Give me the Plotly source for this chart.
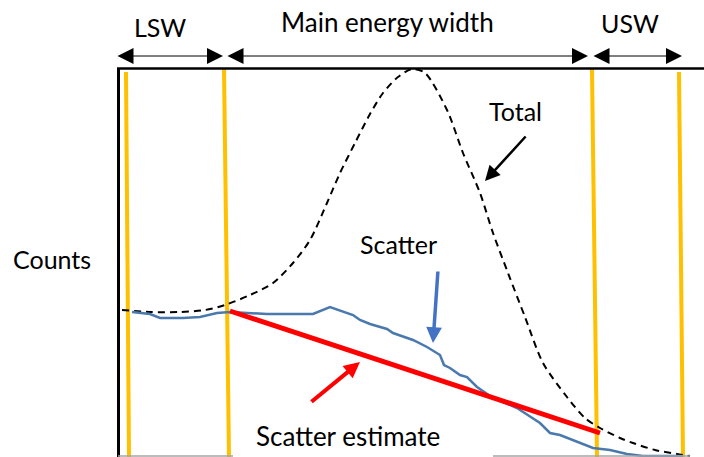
import plotly.graph_objects as go

# Energy-channel positions and counts of the spectrum sketch
total_x = [122, 150, 180, 205, 225, 250, 273, 293, 310, 327, 340, 355, 370, 383, 398, 412,
           425, 447, 463, 480, 493, 508, 525, 543, 567, 585, 600, 620, 633, 655, 677, 690]
total_counts = [147, 145, 145, 147, 152, 162, 174, 194, 217, 254, 284, 314, 343, 364, 380, 388,
                384, 347, 304, 264, 224, 184, 140, 94, 60, 39, 29, 19, 14, 7, 3, 1]

scatter_x = [132, 150, 160, 183, 200, 217, 230, 267, 300, 313, 330, 353, 360, 370, 387, 393,
             413, 427, 440, 444, 450, 460, 467, 477, 493, 517, 540, 550, 560, 572, 593, 610,
             627, 643, 660, 683]
scatter_counts = [145, 143, 139, 139, 140, 144, 145, 143, 143, 143, 150, 142, 137, 133, 128, 124,
                  117, 110, 102, 92, 89, 82, 80, 70, 59, 49, 34, 24, 22, 17, 9, 7,
                  3, 1, 1, 1]

# Linear scatter estimate between the edges of the main window
estimate_x = [230, 600]
estimate_counts = [146, 24]

# Energy window boundaries (top and bottom ends of each marker line)
window_x_top = [126, 224, 592, 679]
window_x_bottom = [129, 229, 597, 683]
window_top = [385, 389, 388, 385]

# Window label spans
lsw_span = [116, 223]
main_span = [226, 588]
usw_span = [592, 682]

Y_MAX = 457
FONT = "Lato"

fig = go.Figure()

# Window boundary lines
for xt, xb, yt in zip(window_x_top, window_x_bottom, window_top):
    fig.add_trace(go.Scatter(x=[xt, xb], y=[yt, 0], mode="lines",
                             line=dict(color="#FFC000", width=4), hoverinfo="skip"))

fig.add_trace(go.Scatter(x=total_x, y=total_counts, mode="lines",
                         line=dict(color="black", width=2, dash="7px,5px", shape="spline",
                                   smoothing=0.8),
                         name="Total"))
fig.add_trace(go.Scatter(x=scatter_x, y=scatter_counts, mode="lines",
                         line=dict(color="#4A79AD", width=2.5), name="Scatter"))
fig.add_trace(go.Scatter(x=estimate_x, y=estimate_counts, mode="lines",
                         line=dict(color="#FF0000", width=5), name="Scatter estimate"))

shapes = [
    # frame: left and top edges, grey baseline pieces
    dict(type="line", x0=118.5, x1=118.5, y0=389, y1=0, line=dict(color="black", width=3)),
    dict(type="line", x0=117, x1=704, y0=388.5, y1=388.5, line=dict(color="black", width=2.5)),
    dict(type="line", x0=118, x1=233, y0=1, y1=1, line=dict(color="#A6A6A6", width=1.5)),
    dict(type="line", x0=493, x1=690, y0=1, y1=1, line=dict(color="#A6A6A6", width=1.5)),
]

annotations = []
arrow_y = Y_MAX - 56
for span in (lsw_span, main_span, usw_span):
    annotations.append(dict(x=span[1], y=arrow_y, ax=span[0], ay=arrow_y,
                            xref="x", yref="y", axref="x", ayref="y", text="",
                            showarrow=True, arrowside="end+start",
                            arrowhead=2, startarrowhead=2, arrowsize=3.2, startarrowsize=3.2,
                            arrowwidth=1, arrowcolor="black"))

labels = [
    ("LSW", 160, 27, 25),
    ("Main energy width", 387, 22, 26),
    ("USW", 630, 23, 25),
    ("Total", 515, 111, 25),
    ("Scatter", 398, 244, 25),
    ("Counts", 52, 259, 25),
    ("Scatter estimate", 348, 436, 26),
]
for text, lx, ly, fs in labels:
    annotations.append(dict(x=lx, y=Y_MAX - ly, xref="x", yref="y", text=text, showarrow=False,
                            xanchor="center", yanchor="middle",
                            font=dict(family=FONT, size=fs, color="black")))

# Pointer arrows: (tail x, tail y, head x, head y, colour, width, size)
pointers = [
    (527, 135, 485, 181, "black", 2.5, 1.2),
    (438, 270, 433, 343, "#4472C4", 3.5, 0.9),
    (310, 403, 360, 362, "#FF0000", 4, 0.8),
]
for tx, ty, hx, hy, col, w, s in pointers:
    annotations.append(dict(x=hx, y=Y_MAX - hy, ax=tx, ay=Y_MAX - ty,
                            xref="x", yref="y", axref="x", ayref="y", text="",
                            showarrow=True, arrowhead=2, arrowsize=s, arrowwidth=w,
                            arrowcolor=col))

fig.update_layout(
    width=704, height=457,
    margin=dict(l=0, r=0, t=0, b=0),
    paper_bgcolor="white", plot_bgcolor="white",
    showlegend=False,
    xaxis=dict(range=[0, 704], visible=False, fixedrange=True),
    yaxis=dict(range=[0, Y_MAX], visible=False, fixedrange=True),
    shapes=shapes,
    annotations=annotations,
)

fig.write_html("out.html")
